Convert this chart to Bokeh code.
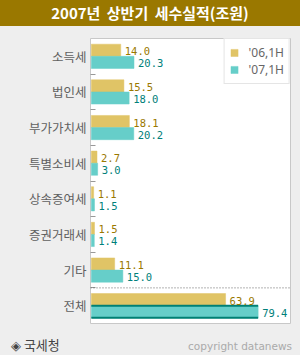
from bokeh.plotting import figure
from bokeh.models import (ColumnDataSource, Range1d, FixedTicker, Span, Legend,
                          LegendItem, Div)
from bokeh.layouts import column
from bokeh.core.properties import value
from bokeh.embed import file_html
from bokeh.resources import INLINE

# ---- data ----
categories = ["소득세", "법인세", "부가가치세", "특별소비세", "상속증여세", "증권거래세", "기타", "전체"]
h1_2006 = [14.0, 15.5, 18.1, 2.7, 1.1, 1.5, 11.1, 63.9]
h1_2007 = [20.3, 18.0, 20.2, 3.0, 1.5, 1.4, 15.0, 79.4]
series_labels = ["'06,1H", "'07,1H"]
title_text = "2007년 상반기 세수실적(조원)"
source_text = "◈ 국세청"
copyright_text = "copyright datanews"

# ---- styles ----
GOLD = "#e0c466"
TEAL = "#66cec9"
GOLD_TXT = "#9a7800"
TEAL_TXT = "#00807a"
DARK_TEAL = "#008074"
BG = "#eeeeee"

pos = list(range(1, len(categories) + 1))
half = 0.17
bar_h = 0.34

src06 = ColumnDataSource(dict(y=[p - half for p in pos], v=h1_2006,
                              t=[f"{v:.1f}" for v in h1_2006]))
src07 = ColumnDataSource(dict(y=[p + half for p in pos], v=h1_2007,
                              t=[f"{v:.1f}" for v in h1_2007]))
last = len(pos) - 1
total_edges = ColumnDataSource(dict(
    y=[pos[last] + half - bar_h / 2, pos[last] + half + bar_h / 2],
    x0=[0, 0], x1=[h1_2007[last], h1_2007[last]]))

p = figure(width=300, height=309, output_backend="svg", toolbar_location=None,
           x_range=Range1d(-0.4, 94.8), y_range=Range1d(len(pos) + 0.5, 0.5),
           min_border_left=90, min_border_right=10, min_border_top=12,
           min_border_bottom=12)
p.border_fill_color = BG
p.background_fill_color = "white"
p.outline_line_color = "#c8c8c8"
p.outline_line_width = 1
p.xgrid.visible = False
p.ygrid.visible = False
p.xaxis.visible = False

r06 = p.hbar(y="y", right="v", left=0, height=bar_h, source=src06,
             fill_color=GOLD, line_color=GOLD, line_width=0.5)
r07 = p.hbar(y="y", right="v", left=0, height=bar_h, source=src07,
             fill_color=TEAL, line_color=TEAL, line_width=0.5)
p.segment(x0="x0", x1="x1", y0="y", y1="y", source=total_edges,
          line_color=DARK_TEAL, line_width=2)

p.text(x="v", y="y", text="t", source=src06, x_offset=4, y_offset=1,
       text_baseline="middle", text_align="left",
       text_font=value("DejaVu Sans Mono"), text_font_size="10.5px",
       text_color=GOLD_TXT)
p.text(x="v", y="y", text="t", source=src07, x_offset=4, y_offset=1,
       text_baseline="middle", text_align="left",
       text_font=value("DejaVu Sans Mono"), text_font_size="10.5px",
       text_color=TEAL_TXT)

p.add_layout(Span(location=pos[last] - 0.5, dimension="width",
                  line_color="#666666", line_dash="1 2", line_width=1))

# axis
yax = p.yaxis[0]
yax.ticker = FixedTicker(ticks=pos, minor_ticks=[q + 0.5 for q in pos[:-1]])
yax.major_label_overrides = {q: c for q, c in zip(pos, categories)}
yax.major_tick_in = 0
yax.major_tick_out = 0
yax.minor_tick_in = 5
yax.minor_tick_out = 0
yax.minor_tick_line_color = "#999999"
yax.axis_line_color = None
yax.major_label_standoff = 4
yax.major_label_text_font = "Noto Sans CJK KR"
yax.major_label_text_font_size = "12.5px"
yax.major_label_text_color = "#606060"

# legend
legend = Legend(items=[LegendItem(label=series_labels[0], renderers=[r06]),
                       LegendItem(label=series_labels[1], renderers=[r07])],
                location="top_right", margin=0, padding=5, spacing=0,
                glyph_width=9, glyph_height=9, label_height=15, label_standoff=10,
                border_line_color="#cccccc", background_fill_color="white",
                background_fill_alpha=1, label_text_font="Noto Sans",
                label_text_font_size="12px", label_text_color="#666666",
                label_text_baseline="middle")
p.add_layout(legend)

title_div = Div(
    text=(f'<div style="width:300px;height:26px;line-height:26px;text-align:center;'
          f'color:white;font-family:\'Noto Sans CJK KR\';font-size:15px;font-weight:bold;'
          f'word-spacing:3px;">{title_text}</div>'),
    width=300, height=26, margin=0,
    styles={"background-color": "#9a7800"})

footer_div = Div(
    text=(f'<div style="position:relative;width:300px;height:20px;">'
          f'<span style="position:absolute;left:11px;top:0px;line-height:20px;'
          f'font-family:\'Noto Sans CJK KR\';font-size:13px;color:#444444;">{source_text}</span>'
          f'<span style="position:absolute;right:8px;top:1px;line-height:20px;'
          f'font-family:\'DejaVu Sans\';font-size:10.5px;color:#aaaaaa;">{copyright_text}</span>'
          f'</div>'),
    width=300, height=20, margin=0,
    styles={"background-color": BG})

layout = column(title_div, p, footer_div, spacing=0)
layout.styles = {"background-color": BG}

open("out.html", "w").write(file_html(layout, INLINE))
